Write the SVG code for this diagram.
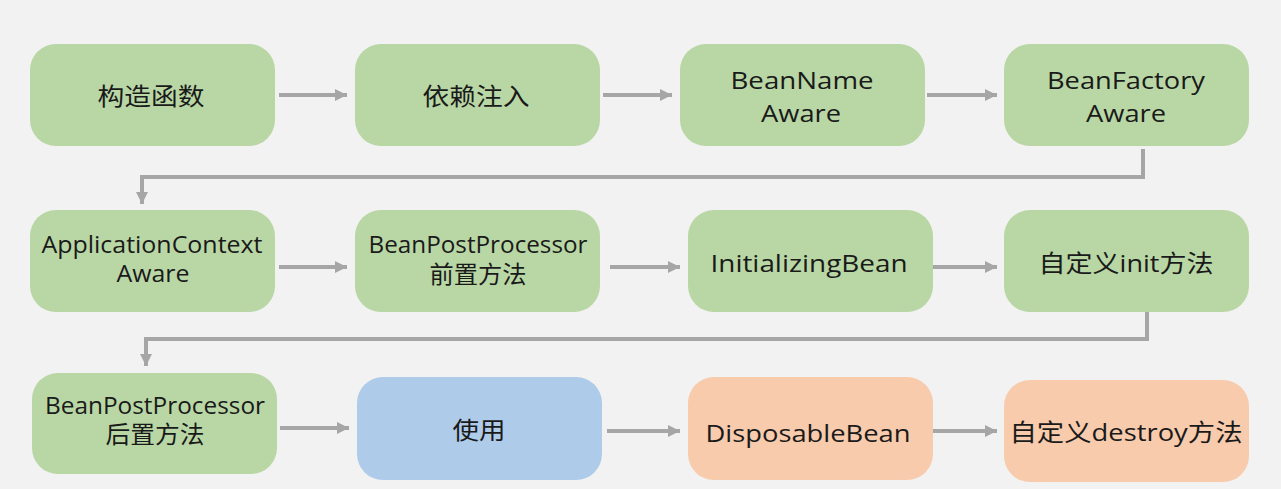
<svg xmlns="http://www.w3.org/2000/svg" width="1281" height="489" viewBox="0 0 1281 489">
<defs>
<marker id="ah" markerWidth="12" markerHeight="12" refX="10" refY="5" orient="auto" markerUnits="userSpaceOnUse" viewBox="0 0 10 10">
<path d="M0,0 L10,5 L0,10 z" fill="#a6a6a6"/>
</marker>
<style>
.g{fill:#b9d7a5}
.b{fill:#afcbea}
.o{fill:#f8cbad}
text{font-family:"Open Sans","Noto Sans CJK SC",sans-serif;font-size:24px;fill:#1a1a1a;text-anchor:middle;dominant-baseline:central}
.zh{font-family:"Noto Sans CJK SC",sans-serif}
.c{fill:none;stroke:#a6a6a6;stroke-width:4}
</style>
</defs>
<rect width="1281" height="489" fill="#f2f2f2"/>
<g id="connectors">
<path class="c" d="M279,95 H347" marker-end="url(#ah)"/>
<path class="c" d="M603,95 H672" marker-end="url(#ah)"/>
<path class="c" d="M927,95 H997" marker-end="url(#ah)"/>
<path class="c" d="M1143,149 V177 H142 V204" marker-end="url(#ah)"/>
<path class="c" d="M279,267 H347" marker-end="url(#ah)"/>
<path class="c" d="M610,267 H680" marker-end="url(#ah)"/>
<path class="c" d="M928,267 H997" marker-end="url(#ah)"/>
<path class="c" d="M1147,312 V339 H146 V366" marker-end="url(#ah)"/>
<path class="c" d="M280,428 H349" marker-end="url(#ah)"/>
<path class="c" d="M607,431 H680" marker-end="url(#ah)"/>
<path class="c" d="M928,431 H997" marker-end="url(#ah)"/>
</g>
<g id="n1"><rect class="g" x="30" y="44" width="245" height="102" rx="26"/><text class="zh" x="151" y="94" font-size="26" textLength="107" lengthAdjust="spacingAndGlyphs">构造函数</text></g>
<g id="n2"><rect class="g" x="355" y="44" width="245" height="102" rx="26"/><text class="zh" x="476" y="94" font-size="26" textLength="107" lengthAdjust="spacingAndGlyphs">依赖注入</text></g>
<g id="n3"><rect class="g" x="680" y="44" width="245" height="102" rx="26"/><text font-size="25"><tspan x="802" y="79" textLength="143" lengthAdjust="spacingAndGlyphs">BeanName</tspan><tspan x="801" y="112" textLength="80" lengthAdjust="spacingAndGlyphs">Aware</tspan></text></g>
<g id="n4"><rect class="g" x="1004" y="44" width="245" height="102" rx="26"/><text font-size="25"><tspan x="1126" y="79" textLength="158" lengthAdjust="spacingAndGlyphs">BeanFactory</tspan><tspan x="1126" y="112" textLength="80" lengthAdjust="spacingAndGlyphs">Aware</tspan></text></g>
<g id="n5"><rect class="g" x="30" y="210" width="245" height="102" rx="26"/><text><tspan x="152" y="243" textLength="221" lengthAdjust="spacingAndGlyphs">ApplicationContext</tspan><tspan x="153" y="272" textLength="73" lengthAdjust="spacingAndGlyphs">Aware</tspan></text></g>
<g id="n6"><rect class="g" x="355" y="210" width="245" height="102" rx="26"/><text><tspan x="478" y="243" textLength="219" lengthAdjust="spacingAndGlyphs">BeanPostProcessor</tspan><tspan class="zh" x="478" y="272" textLength="97" lengthAdjust="spacingAndGlyphs">前置方法</tspan></text></g>
<g id="n7"><rect class="g" x="688" y="210" width="245" height="102" rx="26"/><text x="809" y="262" font-size="25" textLength="197" lengthAdjust="spacingAndGlyphs">InitializingBean</text></g>
<g id="n8"><rect class="g" x="1004" y="210" width="245" height="102" rx="26"/><text x="1126" y="262" font-size="25" textLength="175" lengthAdjust="spacingAndGlyphs">自定义init方法</text></g>
<g id="n9"><rect class="g" x="32" y="373" width="245" height="101" rx="26"/><text><tspan x="155" y="404" textLength="220" lengthAdjust="spacingAndGlyphs">BeanPostProcessor</tspan><tspan class="zh" x="155" y="432" textLength="99" lengthAdjust="spacingAndGlyphs">后置方法</tspan></text></g>
<g id="n10"><rect class="b" x="357" y="377" width="245" height="103" rx="26"/><text class="zh" x="479" y="428" font-size="26" textLength="53" lengthAdjust="spacingAndGlyphs">使用</text></g>
<g id="n11"><rect class="o" x="688" y="377" width="245" height="103" rx="26"/><text x="808" y="432" font-size="25" textLength="205" lengthAdjust="spacingAndGlyphs">DisposableBean</text></g>
<g id="n12"><rect class="o" x="1004" y="380" width="245" height="102" rx="26"/><text x="1126" y="431" font-size="25" textLength="233" lengthAdjust="spacingAndGlyphs">自定义destroy方法</text></g>
</svg>
